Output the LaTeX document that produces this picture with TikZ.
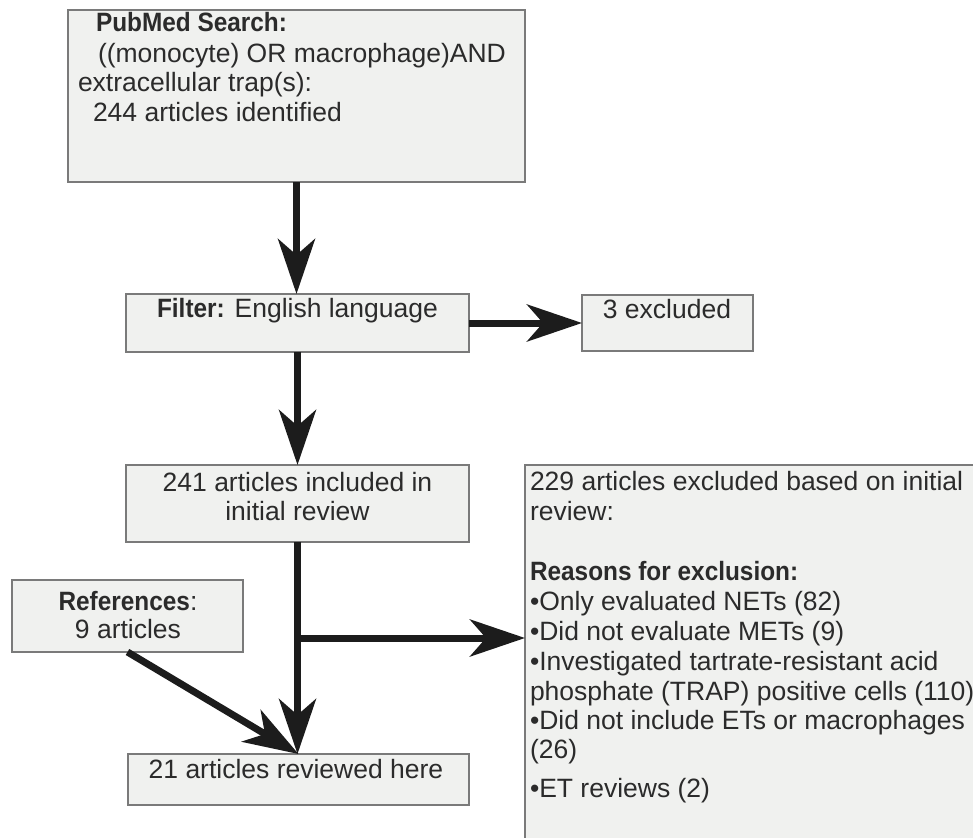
\documentclass[tikz,border=0pt]{standalone}
\usepackage{fontspec}
\setmainfont{Liberation Sans}[BoldFeatures={FakeStretch=0.92}]
\usetikzlibrary{arrows.meta}
\definecolor{boxfill}{HTML}{F0F1EF}
\definecolor{boxline}{HTML}{7A7A7A}
\definecolor{ink}{HTML}{2B2B2B}
\definecolor{arrowc}{HTML}{1C1C1C}
\begin{document}
\begin{tikzpicture}[x=1pt,y=-1pt,
  box/.style={draw=boxline, line width=1.5pt, fill=boxfill, inner sep=0pt, outer sep=0pt, anchor=north west},
  txt/.style={inner sep=0pt, outer sep=0pt, text=ink, font=\fontsize{26.5}{30}\selectfont},
  arr/.style={draw=arrowc, line width=7pt, -{Stealth[length=55pt,width=37pt,inset=16pt]}},
  plain/.style={draw=arrowc, line width=7pt}]
\clip (0,0) rectangle (973,837);
\fill[white] (0,0) rectangle (973,837);
% boxes
\node[box, minimum width=457pt, minimum height=172pt] (search) at (68,10) {};
\node[box, minimum width=343pt, minimum height=58pt] (filter) at (126,294) {};
\node[box, minimum width=171pt, minimum height=56pt] (excl) at (582,295) {};
\node[box, minimum width=343pt, minimum height=77pt] (incl) at (126,465) {};
\node[box, minimum width=470pt, minimum height=400pt] (reasons) at (525,465) {};
\node[box, minimum width=231pt, minimum height=72pt] (refs) at (12,580) {};
\node[box, minimum width=341pt, minimum height=51pt] (rev) at (128,754) {};
% texts
\node[txt, anchor=base west] (s1) at (96,32) {\textbf{PubMed Search:}};
\node[txt, anchor=base west] (s2) at (98,63) {((monocyte) OR macrophage)AND};
\node[txt, anchor=base west] (s3) at (78,92) {extracellular trap(s):};
\node[txt, anchor=base west] (s4) at (93,122) {244 articles identified};
\node[txt, anchor=base] (f1) at (297.5,317) {\textbf{Filter:} English language};
\node[txt, anchor=base] (e1) at (667,318) {3 excluded};
\node[txt, anchor=base] (i1) at (297.5,491) {241 articles included in};
\node[txt, anchor=base] (i2) at (297.5,520) {initial review};
\node[txt, anchor=base] (r1) at (128,610) {\textbf{References}:};
\node[txt, anchor=base] (r2) at (128,638) {9 articles};
\node[txt, anchor=base] (v1) at (296,778) {21 articles reviewed here};
\node[txt, anchor=base west] (x1) at (530,490) {229 articles excluded based on initial};
\node[txt, anchor=base west] (x2) at (530,520) {review:};
\node[txt, anchor=base west] (x3) at (530,580) {\textbf{Reasons for exclusion:}};
\node[txt, anchor=base west] (x4) at (530,610) {•Only evaluated NETs (82)};
\node[txt, anchor=base west] (x5) at (530,640) {•Did not evaluate METs (9)};
\node[txt, anchor=base west] (x6) at (530,670) {•Investigated tartrate-resistant acid};
\node[txt, anchor=base west] (x7) at (530,700) {phosphate (TRAP) positive cells (110)};
\node[txt, anchor=base west] (x8) at (530,729) {•Did not include ETs or macrophages};
\node[txt, anchor=base west] (x9) at (530,758) {(26)};
\node[txt, anchor=base west] (x10) at (530,797) {•ET reviews (2)};
% connectors
\draw[arr] (search.south) -- (search.south |- filter.north);
\draw[arr] (filter.east) -- (excl.west);
\draw[arr] (filter.south) -- (filter.south |- incl.north);
\coordinate (br) at (incl.south |- 0,638);
\draw[arr] (incl.south) -- (incl.south |- rev.north);
\draw[arr] ([xshift=-3.5pt]br) -- (br -| reasons.west);
\draw[arr] (refs.south) -- (rev.north);
\end{tikzpicture}
\end{document}
